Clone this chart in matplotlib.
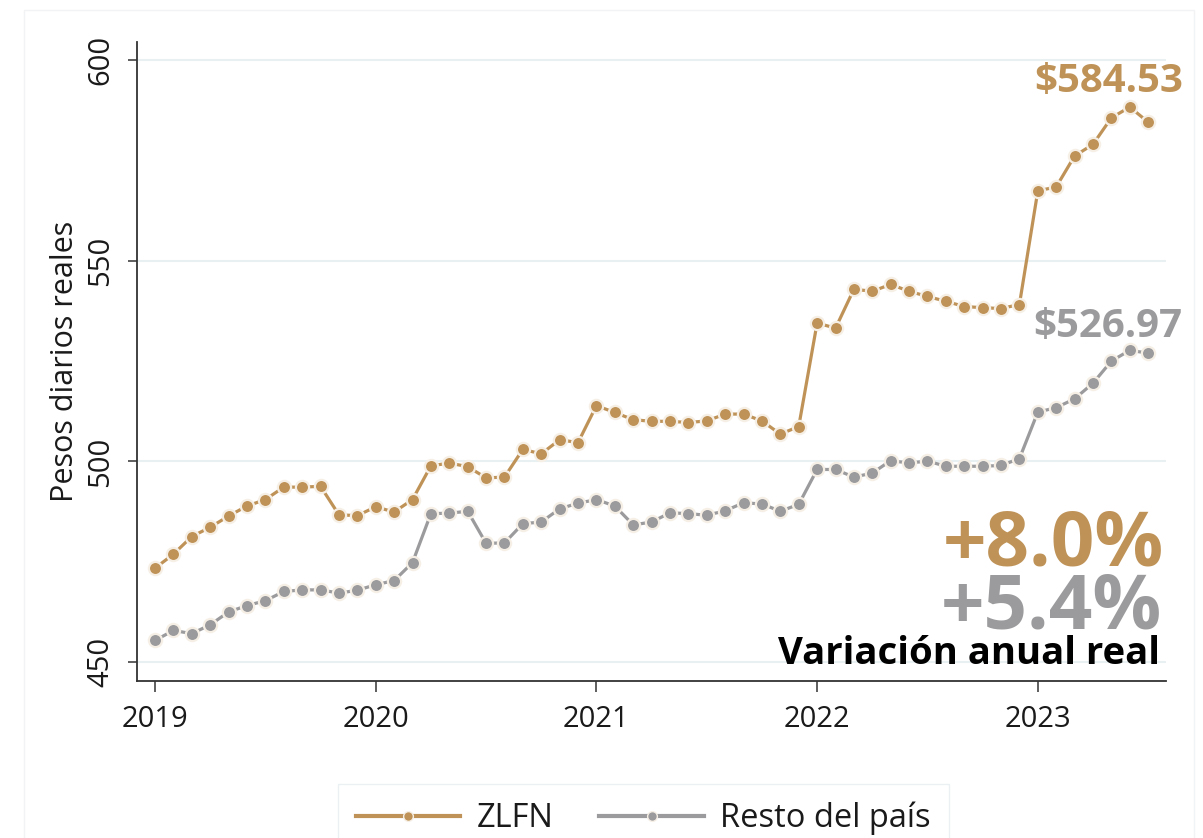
import matplotlib
matplotlib.use("Agg")
import matplotlib.pyplot as plt
from matplotlib.lines import Line2D
from matplotlib.patches import Rectangle
import numpy as np

plt.rcParams["font.family"] = ["Open Sans", "DejaVu Sans"]

# monthly real daily wage, Jan 2019 - Jul 2023
zlfn = [473.4, 476.9, 481.3, 483.6, 486.4, 488.9, 490.5, 493.6, 493.6, 493.8, 486.7, 486.5,
        488.7, 487.4, 490.5, 498.9, 499.6, 498.7, 495.9, 496.1, 503.0, 501.9, 505.4, 504.7,
        513.9, 512.2, 510.4, 510.0, 510.0, 509.7, 510.1, 511.8, 511.8, 510.1, 506.8, 508.7,
        534.5, 533.2, 542.9, 542.4, 544.1, 542.4, 541.1, 539.9, 538.6, 538.3, 538.1, 539.1,
        567.4, 568.4, 576.1, 579.0, 585.6, 588.3, 584.53]
resto = [455.4, 457.9, 457.1, 459.3, 462.5, 464.1, 465.3, 467.6, 468.0, 468.0, 467.2, 467.9,
         469.3, 470.3, 474.8, 487.0, 487.1, 487.6, 479.6, 479.7, 484.5, 484.9, 488.2, 489.6,
         490.5, 488.9, 484.2, 484.9, 487.2, 487.0, 486.6, 487.7, 489.7, 489.4, 487.6, 489.3,
         498.0, 498.0, 496.1, 497.1, 500.2, 499.6, 500.1, 498.8, 498.8, 498.8, 499.0, 500.7,
         512.3, 513.4, 515.6, 519.5, 525.0, 527.7, 526.97]
years = [2019, 2020, 2021, 2022, 2023]
yticks = [450, 500, 550, 600]
var_zlfn = "+8.0%"
var_resto = "+5.4%"

GOLD = "#bf9358"
GRAY = "#9b9b9d"
INK = "#1a1a1a"

months = np.arange(len(zlfn))

fig = plt.figure(figsize=(12.03, 8.38), dpi=100)
fig.patches.append(Rectangle((24 / 1203, -0.1), 1170 / 1203, 1.1 - 10 / 838,
                             transform=fig.transFigure, fill=False,
                             edgecolor="#f1f3f4", lw=1, zorder=0))
ax = fig.add_axes([137 / 1203, 1 - 681 / 838, 1029 / 1203, 639 / 838])

for y, c in ((zlfn, GOLD), (resto, GRAY)):
    ax.plot(months, y, color=c, lw=2.3, marker="o", ms=9.5, mfc=c,
            mec="#f6efe6", mew=1.6, zorder=3)

ax.set_xlim(-0.98, 54.97)
ax.set_ylim(445.3, 604.5)
ax.set_xticks([12 * i for i in range(len(years))])
ax.set_xticklabels([str(y) for y in years])
ax.set_yticks(yticks)
ax.grid(axis="y", color="#e8f0f1", lw=1.5, zorder=0)
for s in ("top", "right"):
    ax.spines[s].set_visible(False)
for s in ("left", "bottom"):
    ax.spines[s].set_color("#333333")
    ax.spines[s].set_linewidth(1.3)
ax.tick_params(axis="y", length=6.5, width=1.1, color="#333333", pad=9,
               labelsize=21, labelcolor=INK, labelrotation=90)
ax.tick_params(axis="x", length=8, width=1.1, color="#333333", pad=9,
               labelsize=21, labelcolor=INK)
for lab in ax.get_yticklabels():
    lab.set_va("center")
ax.set_ylabel("Pesos diarios reales", fontsize=22, color=INK)
ax.yaxis.set_label_coords(-0.055, 0.5)

fig.text(1183 / 1203, 1 - 92 / 838, f"${zlfn[-1]:.2f}", ha="right", va="baseline",
         fontsize=29, fontweight="bold", color=GOLD)
fig.text(1182 / 1203, 1 - 337 / 838, f"${resto[-1]:.2f}", ha="right", va="baseline",
         fontsize=29, fontweight="bold", color=GRAY)
fig.text(1164 / 1203, 1 - 565 / 838, var_zlfn, ha="right", va="baseline",
         fontsize=55, fontweight="bold", color=GOLD)
fig.text(1162 / 1203, 1 - 628 / 838, var_resto, ha="right", va="baseline",
         fontsize=55, fontweight="bold", color=GRAY)
fig.text(1160 / 1203, 1 - 664 / 838, "Variación anual real", ha="right", va="baseline",
         fontsize=27.5, fontweight="bold", color="black")

handles = [Line2D([], [], color=GOLD, lw=3, marker="o", ms=7, mfc=GOLD, mec="#f6efe6", mew=1),
           Line2D([], [], color=GRAY, lw=3, marker="o", ms=7, mfc=GRAY, mec="#f6efe6", mew=1)]
fig.legend(handles, ["ZLFN", "Resto del país"], loc="upper left",
           bbox_to_anchor=(338 / 1203, 1 - 784 / 838), borderaxespad=0,
           ncol=2, fontsize=23.5, handlelength=3.2, handletextpad=0.5,
           columnspacing=1.4, borderpad=0.55, frameon=True, fancybox=False,
           edgecolor="#e6eef0", labelcolor=INK)

fig.savefig("out.png", dpi=100)
